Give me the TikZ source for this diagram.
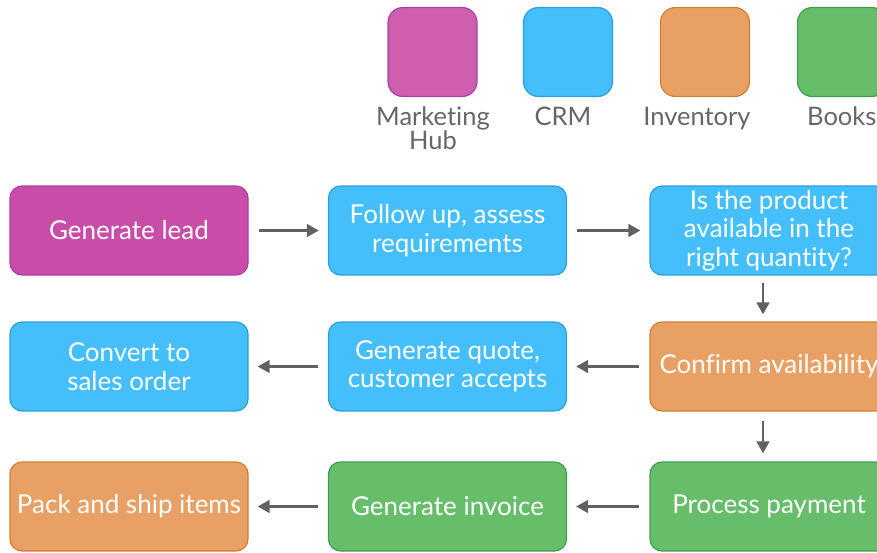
\documentclass[tikz,border=0pt]{standalone}
\usepackage{fontspec}
\setmainfont{Lato}[Ligatures={NoCommon,NoContextual}]
\usetikzlibrary{arrows.meta}
\definecolor{mkfill}{HTML}{C94DA8}
\definecolor{mkleg}{HTML}{CE5EAE}
\definecolor{mkdraw}{HTML}{A840B0}
\definecolor{crmfill}{HTML}{44BFFB}
\definecolor{crmdraw}{HTML}{2C9ED8}
\definecolor{invfill}{HTML}{E9A064}
\definecolor{invdraw}{HTML}{CF8030}
\definecolor{bkfill}{HTML}{66BE6A}
\definecolor{bkdraw}{HTML}{3F9E4E}
\definecolor{arrowgray}{HTML}{5F6166}
\definecolor{labelgray}{HTML}{666666}
\tikzset{
  box/.style={rounded corners=12pt, minimum width=238pt, minimum height=89pt,
    line width=1.2pt, text=white, align=center, inner sep=0pt,
    font=\fontsize{26}{28.5}\selectfont},
  mk/.style={box, fill=mkfill, draw=mkdraw},
  crm/.style={box, fill=crmfill, draw=crmdraw},
  inv/.style={box, fill=invfill, draw=invdraw},
  bk/.style={box, fill=bkfill, draw=bkdraw},
  legsq/.style={rounded corners=15pt, minimum width=89pt, minimum height=89pt, line width=1.2pt, inner sep=0pt},
  leglabel/.style={text=labelgray, align=center, anchor=north, inner sep=0pt,
    font=\fontsize{25.5}{24}\selectfont},
  flow/.style={-{Triangle[length=12pt,width=12.5pt]}, line width=2.8pt, draw=arrowgray},
}
\begin{document}
\begin{tikzpicture}[x=1pt,y=-1pt]
\useasboundingbox (0,0) rectangle (877,552);
% legend
\node[legsq, fill=mkleg, draw=mkdraw] (lm) at (432.5,52) {};
\node[legsq, fill=crmfill, draw=crmdraw] (lc) at (568,52) {};
\node[legsq, fill=invfill, draw=invdraw] (li) at (705,52) {};
\node[legsq, fill=bkfill, draw=bkdraw] (lb) at (842,52) {};
\node[leglabel] (tm) at (433,107) {Marketing\\Hub};
\node[leglabel] (tc) at (563,107) {CRM};
\node[leglabel] (ti) at (697,107) {Inventory};
\node[leglabel, anchor=north west] (tb) at (807,107) {Books};
% row 1
\node[mk] (lead) at (129,230.5) {Generate lead};
\node[crm] (follow) at (447.5,230.5) {Follow up, assess\\requirements};
\node[crm] (avail) at (769,230.5) {Is the product\\available in the\\right quantity?};
% row 2
\node[crm] (convert) at (129,366.5) {Convert to\\sales order};
\node[crm] (quote) at (447.5,366.5) {Generate quote,\\customer accepts};
\node[inv] (confirm) at (769,366.5) {Confirm availability};
% row 3
\node[inv] (pack) at (129,506.5) {Pack and ship items};
\node[bk] (invoice) at (447.5,506.5) {Generate invoice};
\node[bk] (payment) at (769,506.5) {Process payment};
% arrows
\draw[flow, shorten <=10pt, shorten >=9pt] (lead) -- (follow);
\draw[flow, shorten <=10pt, shorten >=9pt] (follow) -- (avail);
\draw[flow, shorten <=7pt, shorten >=7pt] (avail.south -| 763,0) -- (confirm.north -| 763,0);
\draw[flow, shorten <=10pt, shorten >=9pt] (confirm) -- (quote);
\draw[flow, shorten <=10pt, shorten >=9pt] (quote) -- (convert);
\draw[flow, shorten <=9pt, shorten >=8pt] (confirm.south -| 763,0) -- (payment.north -| 763,0);
\draw[flow, shorten <=10pt, shorten >=9pt] (payment) -- (invoice);
\draw[flow, shorten <=10pt, shorten >=9pt] (invoice) -- (pack);
\end{tikzpicture}
\end{document}
